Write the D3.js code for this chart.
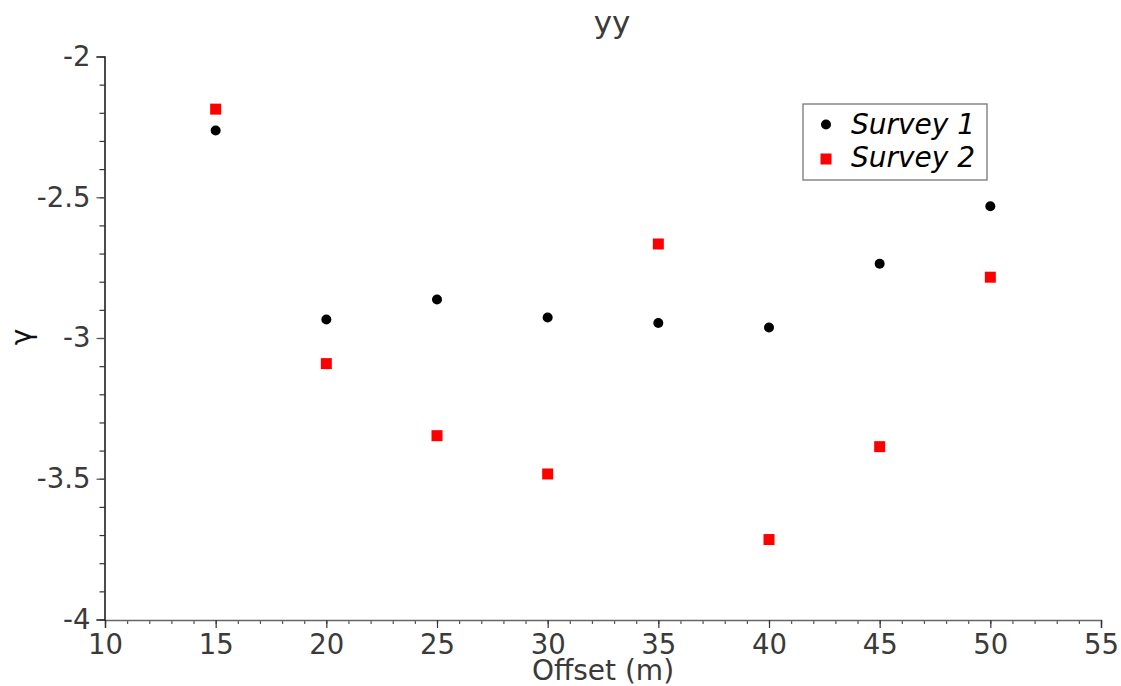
<!DOCTYPE html>
<html>
<head>
<meta charset="utf-8">
<script src="https://cdn.jsdelivr.net/npm/d3@7"></script>
<style>
  html, body { margin: 0; padding: 0; background: #fff; }
  svg { display: block; font-family: "DejaVu Sans", sans-serif; }
</style>
</head>
<body>
<svg id="chart" width="1121" height="686"></svg>
<script>
const offsets = [15, 20, 25, 30, 35, 40, 45, 50];
const survey1 = [-2.263, -2.934, -2.863, -2.927, -2.947, -2.963, -2.736, -2.532];
const survey2 = [-2.187, -3.091, -3.347, -3.483, -2.666, -3.716, -3.386, -2.784];
const seriesNames = ["Survey 1", "Survey 2"];
const xTicks = [10, 15, 20, 25, 30, 35, 40, 45, 50, 55];
const yTicks = [-2, -2.5, -3, -3.5, -4];

const svg = d3.select("#chart");
const plotLeft = 105, plotRight = 1101, plotTop = 56.5, plotBottom = 619.5;

const x = d3.scaleLinear().domain([10, 55]).range([plotLeft, plotRight]);
const y = d3.scaleLinear().domain([-4, -2]).range([plotBottom, plotTop]);

const labelColor = "#3a3a3a";
const fs = 27.5;

// X axis minor ticks
svg.append("g").attr("transform", `translate(0,${plotBottom + 0.5})`)
  .call(d3.axisBottom(x).tickValues(d3.range(10, 56, 1)).tickSize(4).tickFormat(""))
  .call(g => g.select(".domain").remove())
  .call(g => g.selectAll("line").attr("stroke", "#555").attr("stroke-width", 1.2));
svg.append("g").attr("transform", `translate(0,${plotBottom + 0.5})`)
  .call(d3.axisBottom(x).tickValues(xTicks).tickSize(8).tickPadding(6).tickFormat(d3.format("d")))
  .call(g => g.select(".domain").attr("stroke", "#666").attr("stroke-width", 1.5))
  .call(g => g.selectAll("line").attr("stroke", "#333").attr("stroke-width", 1.2))
  .call(g => g.selectAll("text").attr("fill", labelColor).attr("font-size", fs)
    .attr("font-family", "DejaVu Sans, sans-serif"));

// Y axis
svg.append("g").attr("transform", `translate(${plotLeft - 0.5},0)`)
  .call(d3.axisLeft(y).tickValues(d3.range(-40, -19, 1).map(v => v / 10)).tickSize(5).tickFormat(""))
  .call(g => g.select(".domain").remove())
  .call(g => g.selectAll("line").attr("stroke", "#333").attr("stroke-width", 1.2));
svg.append("g").attr("transform", `translate(${plotLeft - 0.5},0)`)
  .call(d3.axisLeft(y).tickValues(yTicks).tickSize(8).tickPadding(6)
    .tickFormat(d => String(d)))
  .call(g => g.select(".domain").attr("stroke", "#111").attr("stroke-width", 1.5))
  .call(g => g.selectAll("line").attr("stroke", "#555").attr("stroke-width", 1.2))
  .call(g => g.selectAll("text").attr("fill", labelColor).attr("font-size", fs)
    .attr("font-family", "DejaVu Sans, sans-serif"));

// Title
svg.append("text").attr("x", 612).attr("y", 33).attr("text-anchor", "middle")
  .attr("font-size", 31).attr("fill", labelColor).text("yy");

// Axis labels
svg.append("text").attr("x", 603).attr("y", 680).attr("text-anchor", "middle")
  .attr("font-size", 28).attr("fill", labelColor).text("Offset (m)");
svg.append("text").attr("transform", `translate(31,337) rotate(-90)`).attr("text-anchor", "middle")
  .attr("font-size", 28).attr("fill", "#111").text("γ");

// Points
const data1 = offsets.map((o, i) => ({ x: o, y: survey1[i] }));
const data2 = offsets.map((o, i) => ({ x: o, y: survey2[i] }));

svg.append("g").selectAll("circle").data(data1).join("circle")
  .attr("cx", d => x(d.x)).attr("cy", d => y(d.y)).attr("r", 5).attr("fill", "#000");

const sq = 11;
svg.append("g").selectAll("rect").data(data2).join("rect")
  .attr("x", d => x(d.x) - sq / 2).attr("y", d => y(d.y) - sq / 2)
  .attr("width", sq).attr("height", sq).attr("fill", "#ff0000");

// Legend
const lg = svg.append("g");
lg.append("rect").attr("x", 803).attr("y", 104).attr("width", 184).attr("height", 76)
  .attr("fill", "#fff").attr("stroke", "#777").attr("stroke-width", 1.3);
lg.append("circle").attr("cx", 826).attr("cy", 124.5).attr("r", 5).attr("fill", "#000");
lg.append("rect").attr("x", 826 - sq / 2).attr("y", 159 - sq / 2).attr("width", sq).attr("height", sq).attr("fill", "#ff0000");
lg.selectAll("text.lab").data(seriesNames).join("text").attr("class", "lab")
  .attr("x", 851).attr("y", (d, i) => 134 + i * 32.5)
  .attr("font-size", 28).attr("font-style", "italic").attr("fill", "#000").text(d => d);
</script>
</body>
</html>
